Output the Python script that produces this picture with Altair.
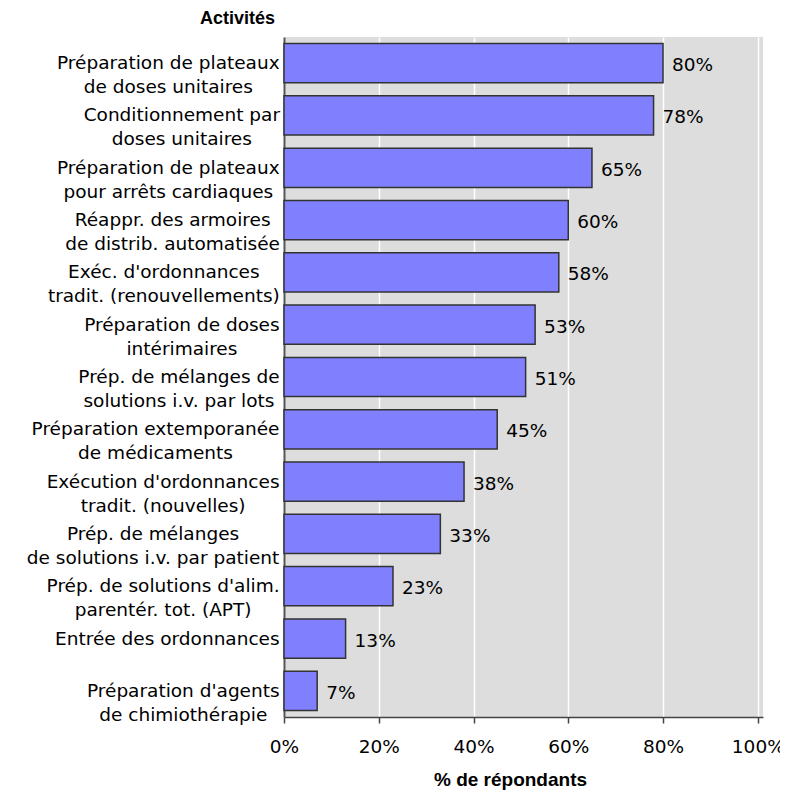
import altair as alt
import pandas as pd

# ---- data ----
labels = [
    "Préparation de plateaux\nde doses unitaires",
    "Conditionnement par\ndoses unitaires",
    "Préparation de plateaux\npour arrêts cardiaques",
    "Réappr. des armoires\nde distrib. automatisée",
    "Exéc. d'ordonnances\ntradit. (renouvellements)",
    "Préparation de doses\nintérimaires",
    "Prép. de mélanges de\nsolutions i.v. par lots",
    "Préparation extemporanée\nde médicaments",
    "Exécution d'ordonnances\ntradit. (nouvelles)",
    "Prép. de mélanges\nde solutions i.v. par patient",
    "Prép. de solutions d'alim.\nparentér. tot. (APT)",
    "Entrée des ordonnances",
    "Préparation d'agents\nde chimiothérapie",
]
values = [80, 78, 65, 60, 58, 53, 51, 45, 38, 33, 23, 13, 7]
x_ticks = [0, 20, 40, 60, 80, 100]

# ---- layout / style ----
W, H = 479, 680
XMAX = 101.1
LABEL_FONT = "DejaVu Sans"
LABEL_SIZE = 18.5

# approximate DejaVu Sans advance widths (em) to centre lines inside each label block
_w = {
    " ": .318, "a": .613, "b": .635, "c": .550, "d": .635, "e": .615, "é": .615,
    "è": .615, "ê": .615, "f": .352, "g": .635, "h": .634, "i": .278, "j": .278,
    "k": .579, "l": .278, "m": .974, "n": .634, "o": .612, "p": .635, "q": .635,
    "r": .411, "s": .521, "t": .392, "u": .634, "v": .592, "w": .818, "x": .592,
    "y": .592, "z": .525, "A": .684, "C": .698, "D": .770, "E": .632, "P": .603,
    "R": .695, "T": .611, ".": .318, "'": .275, "(": .390, ")": .390,
}


def text_width(s):
    return sum(_w.get(c, 0.62) for c in s) * LABEL_SIZE


px_per_unit = W / XMAX
df = pd.DataFrame({"label": labels, "value": values})
df["value_label"] = [f"{v}%" for v in values]
df["label_x"] = [
    (-4 - max(text_width(l) for l in lab.split("\n")) / 2) / px_per_unit
    for lab in labels
]

x_scale = alt.Scale(domain=[0, XMAX], nice=False, zero=True)
x_axis = alt.Axis(
    values=x_ticks,
    labelExpr="datum.value + '%'",
    title="% de répondants",
    titleFont="Liberation Sans",
    titleFontSize=19,
    titleFontWeight="bold",
    titleColor="black",
    titleX=226,
    titleY=62,
    titleBaseline="middle",
    labelFont=LABEL_FONT,
    labelFontSize=18.5,
    labelColor="black",
    labelPadding=14,
    labelFlush=False,
    domainColor="#444444",
    domainWidth=1.5,
    tickColor="#444444",
    tickWidth=1.5,
    tickSize=6,
    grid=True,
    gridColor="white",
    gridWidth=1.5,
)
y_enc = alt.Y(
    "label:N",
    sort=labels,
    scale=alt.Scale(paddingInner=0.25, paddingOuter=0.125),
    axis=alt.Axis(labels=False, ticks=False, title=None, grid=False,
                  domainColor="#555555", domainWidth=2),
)

base = alt.Chart(df)

bars = base.mark_bar(fill="#8080FF", stroke="#333333", strokeWidth=1.5).encode(
    x=alt.X("value:Q", scale=x_scale, axis=x_axis),
    y=y_enc,
)

value_text = base.mark_text(
    align="left", baseline="middle", dx=9, dy=2, font=LABEL_FONT, fontSize=18.5, color="black"
).encode(
    x=alt.X("value:Q", scale=x_scale, axis=x_axis),
    y=y_enc,
    text="value_label:N",
)

cat_text = base.mark_text(
    align="center", baseline="middle", lineBreak="\n", lineHeight=24,
    font=LABEL_FONT, fontSize=LABEL_SIZE, color="black", clip=False,
).encode(
    x=alt.X("label_x:Q", scale=x_scale, axis=x_axis),
    y=y_enc,
    text="label:N",
)

chart = (
    alt.layer(bars, value_text, cat_text)
    .properties(
        width=W,
        height=H,
        autosize=alt.AutoSizeParams(type="none"),
        padding={"left": 276, "top": 29, "right": 17, "bottom": 74},
        title=alt.TitleParams(
            "Activités", anchor="start", frame="group", dx=-84, offset=9,
            font="Liberation Sans", fontSize=18, fontWeight="bold", color="black",
        ),
        background="white",
    )
    .configure_view(fill="#DDDDDD", strokeWidth=0)
)

chart.save("out.html", embed_options={"renderer": "svg", "actions": False})
